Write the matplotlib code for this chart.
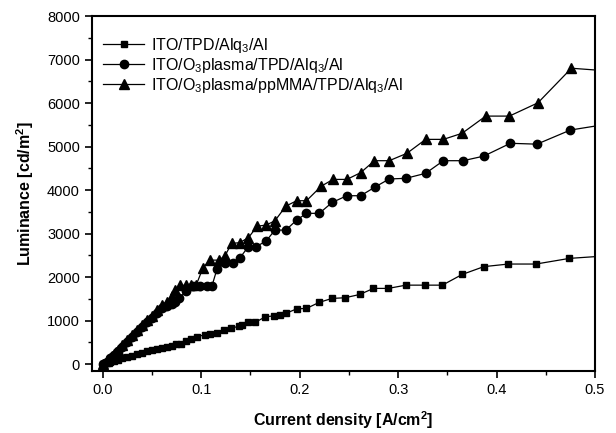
import matplotlib
matplotlib.use('Agg')
import matplotlib.pyplot as plt
from matplotlib.ticker import MultipleLocator

plt.rcParams['font.family'] = ['Liberation Sans', 'DejaVu Sans']
plt.rcParams['mathtext.default'] = 'regular'

# ITO/TPD/Alq3/Al (squares)
x_sq = [0.000, 0.004, 0.008, 0.012, 0.016, 0.020, 0.025, 0.030, 0.035, 0.040,
        0.045, 0.050, 0.055, 0.060, 0.065, 0.070, 0.075, 0.080, 0.085, 0.090,
        0.096, 0.104, 0.109, 0.116, 0.123, 0.130, 0.138, 0.142, 0.148, 0.155,
        0.165, 0.174, 0.180, 0.186, 0.197, 0.207, 0.220, 0.233, 0.246, 0.261,
        0.275, 0.290, 0.308, 0.327, 0.345, 0.365, 0.387, 0.412, 0.440, 0.474]
y_sq = [0, 20, 45, 75, 105, 130, 160, 195, 230, 265,
        295, 320, 345, 375, 400, 420, 455, 470, 530, 585,
        625, 680, 700, 725, 795, 820, 870, 895, 960, 960,
        1085, 1110, 1125, 1165, 1270, 1280, 1420, 1510, 1525, 1600,
        1740, 1740, 1815, 1815, 1815, 2060, 2240, 2300, 2300, 2430]
end_sq = 2470

# ITO/O3plasma/TPD/Alq3/Al (circles)
x_ci = [0.000, 0.004, 0.008, 0.012, 0.016, 0.020, 0.025, 0.030, 0.035, 0.040,
        0.045, 0.050, 0.055, 0.060, 0.065, 0.070, 0.074, 0.078, 0.085, 0.092,
        0.099, 0.106, 0.111, 0.116, 0.124, 0.132, 0.139, 0.148, 0.156, 0.166,
        0.175, 0.186, 0.197, 0.207, 0.220, 0.233, 0.248, 0.262, 0.277, 0.291,
        0.308, 0.328, 0.346, 0.366, 0.387, 0.414, 0.441, 0.475]
y_ci = [0, 60, 130, 210, 300, 390, 510, 620, 740, 850,
        960, 1060, 1170, 1280, 1330, 1390, 1420, 1510, 1690, 1800,
        1800, 1800, 1795, 2175, 2315, 2330, 2430, 2700, 2700, 2830,
        3080, 3080, 3310, 3465, 3465, 3715, 3870, 3870, 4075, 4255,
        4270, 4385, 4675, 4675, 4780, 5075, 5055, 5380]
end_ci = 5470

# ITO/O3plasma/ppMMA/TPD/Alq3/Al (triangles)
x_tr = [0.000, 0.004, 0.008, 0.012, 0.016, 0.020, 0.025, 0.030, 0.035, 0.040,
        0.045, 0.050, 0.055, 0.060, 0.065, 0.070, 0.074, 0.079, 0.085, 0.090,
        0.095, 0.102, 0.109, 0.118, 0.124, 0.131, 0.139, 0.148, 0.157, 0.166,
        0.175, 0.186, 0.197, 0.207, 0.222, 0.234, 0.248, 0.262, 0.276, 0.291,
        0.309, 0.328, 0.346, 0.365, 0.389, 0.413, 0.442, 0.476]
y_tr = [0, 70, 150, 235, 330, 430, 550, 670, 790, 910,
        1020, 1110, 1240, 1370, 1420, 1560, 1700, 1810, 1810, 1810,
        1815, 2220, 2390, 2390, 2480, 2775, 2790, 2905, 3170, 3195,
        3295, 3630, 3755, 3755, 4090, 4245, 4245, 4400, 4675, 4675,
        4845, 5165, 5165, 5305, 5700, 5700, 6005, 6800]
end_tr = 6760

labels = ['ITO/TPD/Alq$_3$/Al',
          'ITO/O$_3$plasma/TPD/Alq$_3$/Al',
          'ITO/O$_3$plasma/ppMMA/TPD/Alq$_3$/Al']

fig = plt.figure(figsize=(6.16, 4.33), dpi=100)
ax = fig.add_axes([0.149, 0.143, 0.817, 0.820])

series = [(x_sq, y_sq, end_sq, 's', 5),
          (x_ci, y_ci, end_ci, 'o', 6),
          (x_tr, y_tr, end_tr, '^', 6.5)]
for (xs, ys, ye, m, ms), lab in zip(series, labels):
    ax.plot(xs + [0.5], ys + [ye], '-', color='black', lw=0.9,
            marker=m, markersize=ms, markevery=list(range(len(xs))),
            label=lab)

ax.set_xlim(-0.011, 0.5)
ax.set_ylim(-160, 8000)
ax.xaxis.set_major_locator(MultipleLocator(0.1))
ax.xaxis.set_minor_locator(MultipleLocator(0.05))
ax.yaxis.set_major_locator(MultipleLocator(1000))
ax.yaxis.set_minor_locator(MultipleLocator(500))
ax.xaxis.set_major_formatter(plt.FuncFormatter(lambda v, p: '%.1f' % v))
ax.tick_params(which='major', direction='out', length=5, width=1.2, labelsize=10.5)
ax.tick_params(which='minor', direction='out', length=3, width=1.0)
for s in ax.spines.values():
    s.set_linewidth(1.5)

ax.set_xlabel('Current density [A/cm$^2$]', fontsize=11.5, fontweight='bold', labelpad=9)
ax.set_ylabel('Luminance [cd/m$^2$]', fontsize=11.5, fontweight='bold', labelpad=8)

ax.legend(loc='upper left', bbox_to_anchor=(0.0, 0.975), frameon=False,
          fontsize=11.5, handlelength=2.6, borderaxespad=0.3,
          labelspacing=0.05, handletextpad=0.4)

plt.savefig('out.png', dpi=100)
